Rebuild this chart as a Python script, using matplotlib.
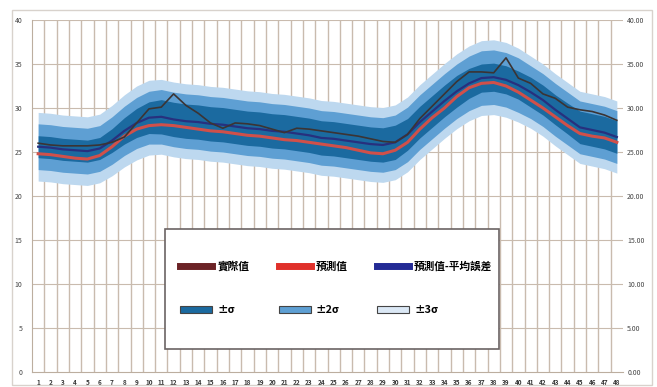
import matplotlib.pyplot as plt
from matplotlib.lines import Line2D
from matplotlib.patches import Patch, Rectangle
import numpy as np

plt.rcParams['font.family'] = ['Noto Sans CJK TC', 'DejaVu Sans']

periods = list(range(1, 49))

# 實際值
actual = [26.0, 25.8, 25.7, 25.7, 25.7, 25.8, 26.1, 26.7, 28.3, 29.9,
          30.1, 31.6, 30.3, 29.4, 28.3, 27.7, 28.3, 28.2, 28.0, 27.6,
          27.2, 27.7, 27.6, 27.4, 27.2, 27.0, 26.8, 26.5, 26.2, 26.1,
          27.0, 28.8, 30.2, 31.6, 33.0, 34.1, 34.1, 34.0, 35.7, 33.4,
          32.8, 31.6, 31.1, 30.1, 29.8, 29.6, 29.2, 28.6]
# 預測值
predicted = [24.8, 24.7, 24.5, 24.3, 24.2, 24.6, 25.6, 26.8, 27.6, 28.0,
             28.1, 28.0, 27.8, 27.6, 27.4, 27.3, 27.1, 26.9, 26.8, 26.6,
             26.4, 26.3, 26.1, 25.9, 25.7, 25.5, 25.2, 24.9, 24.8, 25.2,
             26.1, 27.6, 28.9, 30.0, 31.3, 32.3, 32.8, 32.9, 32.5, 31.8,
             30.9, 30.0, 29.0, 28.0, 27.1, 26.8, 26.6, 26.1]
# 預測值-平均誤差
adjusted = [25.6, 25.5, 25.3, 25.2, 25.1, 25.4, 26.3, 27.4, 28.3, 28.9,
            29.0, 28.7, 28.5, 28.4, 28.2, 28.1, 27.9, 27.7, 27.6, 27.4,
            27.3, 27.1, 26.9, 26.6, 26.5, 26.3, 26.1, 25.9, 25.8, 26.1,
            27.0, 28.4, 29.6, 30.8, 31.9, 32.8, 33.4, 33.5, 33.2, 32.6,
            31.8, 30.9, 29.8, 28.8, 27.8, 27.5, 27.2, 26.7]

# band half widths around 預測值-平均誤差
band_1s = [1.25, 1.25, 1.25, 1.25, 1.25, 1.25, 1.35, 1.5, 1.65, 1.8,
           1.95, 1.95, 1.95, 1.95, 1.95, 1.95, 1.95, 1.95, 1.95, 1.95,
           1.95, 1.95, 1.95, 1.95, 1.95, 1.95, 1.95, 1.95, 1.95, 1.95,
           1.8, 1.8, 1.8, 1.8, 1.8, 1.7, 1.6, 1.6, 1.6, 1.6,
           1.7, 1.7, 1.7, 1.75, 1.85, 1.85, 1.85, 1.85]
band_2s = [2.6, 2.6, 2.6, 2.6, 2.6, 2.6, 2.7, 2.8, 2.9, 3.0,
           3.1, 3.1, 3.1, 3.1, 3.1, 3.1, 3.1, 3.1, 3.1, 3.1,
           3.1, 3.1, 3.1, 3.1, 3.1, 3.1, 3.1, 3.1, 3.1, 3.1,
           3.1, 3.1, 3.1, 3.1, 3.1, 3.1, 3.1, 3.1, 3.1, 3.1,
           3.0, 3.0, 3.0, 3.0, 3.0, 3.0, 3.0, 3.0]
band_3s = [3.9, 3.9, 3.9, 3.9, 3.9, 3.9, 4.0, 4.1, 4.2, 4.25,
           4.25, 4.25, 4.25, 4.25, 4.25, 4.25, 4.25, 4.25, 4.25, 4.25,
           4.25, 4.25, 4.25, 4.25, 4.25, 4.25, 4.25, 4.25, 4.25, 4.25,
           4.25, 4.25, 4.25, 4.25, 4.25, 4.25, 4.25, 4.25, 4.25, 4.2,
           4.1, 4.1, 4.1, 4.1, 4.1, 4.1, 4.1, 4.1]

left_ticks = [0, 5, 10, 15, 20, 25, 30, 35, 40]
right_labels = ['0.00', '5.00', '10.00', '15.00', '20.00', '25.00', '30.00', '35.00', '40.00']

c_1s = '#1b6aa0'
c_2s = '#5e9fd3'
c_3s = '#bdd8ef'
grid_c = '#c9bbae'

fig = plt.figure(figsize=(6.57, 3.87), dpi=100)
ax = fig.add_axes([32 / 657, 1 - 372 / 387, 591 / 657, 352 / 387])

x = np.array(periods)
mid = np.array(adjusted)
for w, c in [(band_3s, c_3s), (band_2s, c_2s), (band_1s, c_1s)]:
    w = np.array(w)
    ax.fill_between(x, mid - w, mid + w, color=c, lw=0, zorder=1)

ax.plot(x, predicted, color='#d0504a', lw=2.2, zorder=3)
ax.plot(x, adjusted, color='#27307e', lw=1.6, zorder=3)
ax.plot(x, actual, color='#3b3434', lw=1.2, zorder=4)

ax.set_xlim(0.5, 48.5)
ax.set_ylim(0, 40)
ax.set_yticks(left_ticks)
ax.set_yticklabels([str(t) for t in left_ticks], fontsize=5, color='#444444')
ax.set_xticks(periods)
ax.set_xticklabels([str(p) for p in periods], fontsize=4.6, color='#333333', fontweight='bold')
ax.tick_params(length=0, pad=5)
ax.tick_params(axis='y', pad=7)

# category boundaries and value gridlines
for b in np.arange(1.5, 48.5, 1):
    ax.axvline(b, color=grid_c, lw=1.0, zorder=0)
for t in left_ticks[1:]:
    ax.axhline(t, color=grid_c, lw=0.8, zorder=0)

for s in ['top', 'right']:
    ax.spines[s].set_visible(False)
for s in ['left', 'bottom']:
    ax.spines[s].set_color('#bcae9f')

ax2 = ax.twinx()
ax2.set_ylim(0, 40)
ax2.set_yticks(left_ticks)
ax2.set_yticklabels(right_labels, fontsize=5, color='#444444')
ax2.tick_params(length=0, pad=3)
for s in ax2.spines.values():
    s.set_visible(False)

# legend
frame = Rectangle((165 / 657, 1 - 349 / 387), 334 / 657, 120 / 387,
                  transform=fig.transFigure, facecolor='white',
                  edgecolor='#6b6363', lw=1.2, zorder=10)
fig.patches.append(frame)

handles = [
    Line2D([], [], color='#6b2226', lw=5),
    Patch(facecolor=c_1s, edgecolor='#444444', lw=0.8),
    Line2D([], [], color='#e0302a', lw=5),
    Patch(facecolor=c_2s, edgecolor='#444444', lw=0.8),
    Line2D([], [], color='#232a95', lw=5),
    Patch(facecolor='#dbe8f5', edgecolor='#444444', lw=0.8),
]
labels = ['實際值', '±σ', '預測值', '±2σ', '預測值-平均誤差', '±3σ']
leg = fig.legend(handles, labels, ncol=3, loc='upper left',
                 bbox_to_anchor=(175 / 657, 1 - 256 / 387),
                 frameon=False, handlelength=3.0, handleheight=0.6,
                 handletextpad=0.5, columnspacing=2.7, labelspacing=3.1,
                 borderpad=0, prop={'size': 7.7, 'weight': 'bold'})
leg.set_zorder(11)

# outer chart border
fig.patches.append(Rectangle((12 / 657, 1 - 385 / 387), 640 / 657, 375 / 387,
                             transform=fig.transFigure, fill=False,
                             edgecolor='#d8d2cc', lw=1.0))

plt.savefig('out.png', dpi=100)
